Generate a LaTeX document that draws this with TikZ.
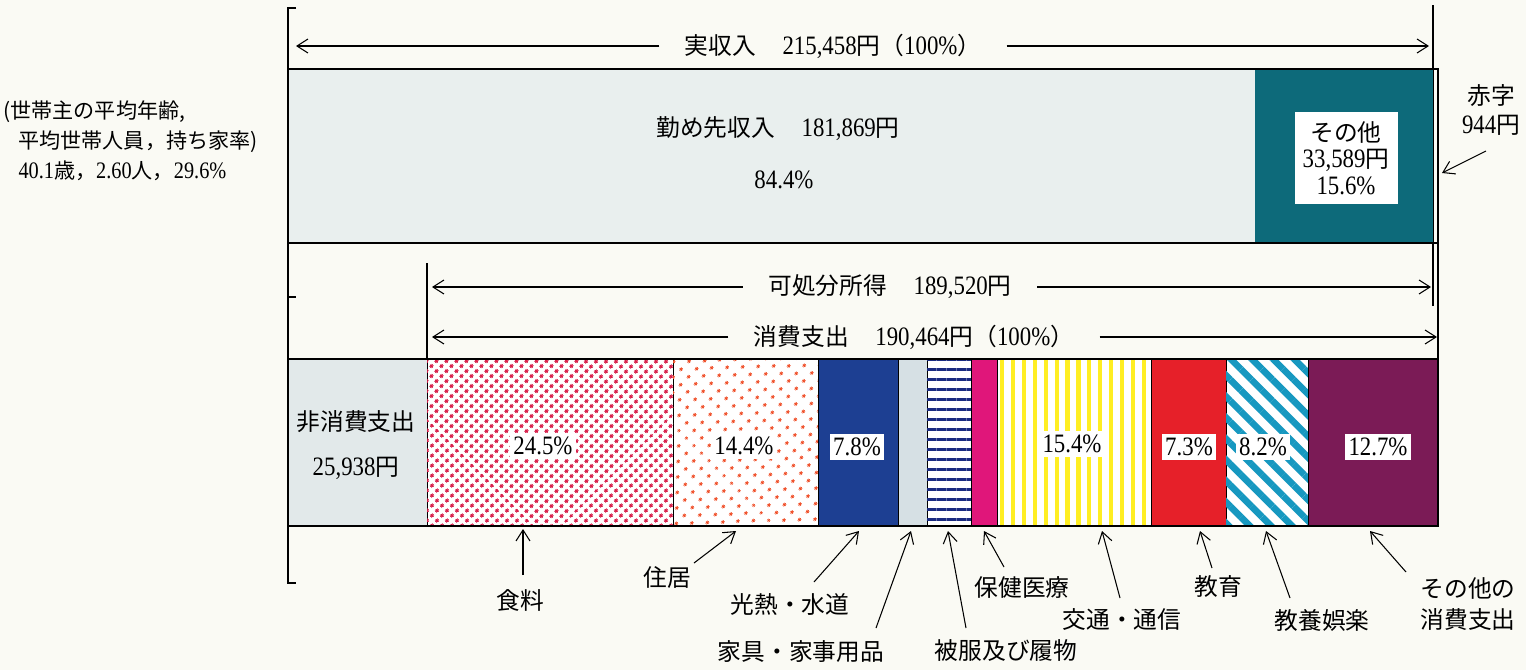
\documentclass[tikz,border=0pt]{standalone}
\usepackage{fontspec}
\setmainfont{Liberation Serif}[Scale=1.12, FakeStretch=0.86]
\newfontfamily\jp{Noto Sans CJK JP}
\usetikzlibrary{positioning,arrows.meta,patterns.meta}

\definecolor{paper}{HTML}{FAFAF4}
\definecolor{wagefill}{HTML}{E9EFEE}
\definecolor{otherteal}{HTML}{0D6A7A}
\definecolor{taxfill}{HTML}{E2E9EA}
\definecolor{fooddot}{HTML}{D81E4A}
\definecolor{housedot}{HTML}{F0502A}
\definecolor{utilblue}{HTML}{1D3F92}
\definecolor{furngrey}{HTML}{D6E0E4}
\definecolor{clothnavy}{HTML}{1A2A80}
\definecolor{healthpink}{HTML}{E0167A}
\definecolor{transyellow}{HTML}{FFEE22}
\definecolor{edured}{HTML}{E62029}
\definecolor{leiscyan}{HTML}{1798C0}
\definecolor{miscpurple}{HTML}{7B1B56}

\newcommand{\J}[1]{{\jp #1}}
\newcommand{\en}{{\jp 円}}

\tikzset{
  frame/.style={line width=0.9pt},
  seg/.style={draw=black, line width=0.5pt},
  txt/.style={inner sep=0pt, align=center, font=\fontsize{13.5}{17}\selectfont},
  jtxt/.style={txt, font=\jp\fontsize{13.5}{17}\selectfont},
  pct/.style={txt, fill=white, inner sep=2pt},
  span/.style={txt, inner xsep=0.5cm},
}

\begin{document}
\begin{tikzpicture}[x=0.02cm, y=-0.02cm, line width=0.6pt]
\useasboundingbox[fill=paper] (0,0) rectangle (1526,670);
\begin{scope}[>={Straight Barb[length=2.2mm,width=2.8mm]}]

  % brackets and guide lines
  \draw[frame] (296,8) -- (288,8) -- (288,583) -- (296,583);
  \draw[frame] (288,297) -- (296,297);
  \draw (1433,5) -- (1433,306);
  \draw (427,263) -- (427,359);
  \draw (1438,243) -- (1438,359);

  \node (note) at (3,141) [anchor=west, inner sep=0pt, align=left, font=\jp\fontsize{12}{17}\selectfont]{(世帯主の平均年齢,\\\hspace{0.3cm}平均世帯人員，持ち家率)\\\hspace{0.3cm}{\rmfamily 40.1}歳，{\rmfamily 2.60}人，{\rmfamily 29.6\%}};

  % income bar
  \fill[wagefill] (288,69) rectangle (1255,243);
  \fill[otherteal] (1255,69) rectangle (1433,243);
  \draw[frame] (288,69) rectangle (1438,243);

  \node (wage) at (778,129) [txt]{\J{勤め先収入}\quad 181,869\en};
  \node (wagepct) at (784,180) [txt]{84.4\%};
  \node (other) at (1346,158) [txt, fill=white, minimum width=2.06cm, minimum height=1.86cm, font=\fontsize{13.5}{15}\selectfont]{\J{その他}\\33,589\en\\15.6\%};
  \node (deficit) at (1491,110) [txt]{\J{赤字}\\944\en};
  \coordinate (defgap) at (1442,173);
  \draw[->] ([shift={(-5,41)}]deficit.center) -- (defgap);

  % spans
  \node (income) at (833,46) [span]{\J{実収入}\quad 215,458\en\J{（}100\%\J{）}};
  \coordinate (incL) at (296,46);
  \coordinate (incR) at (1429,46);
  \draw[->] (income) -- (incL);
  \draw[->] (income) -- (incR);

  \node (dispo) at (890,287) [span]{\J{可処分所得}\quad 189,520\en};
  \coordinate (dispL) at (432,287);
  \coordinate (dispR) at (1431,287);
  \draw[->] (dispo) -- (dispL);
  \draw[->] (dispo) -- (dispR);

  \node (cons) at (914,337) [span]{\J{消費支出}\quad 190,464\en\J{（}100\%\J{）}};
  \coordinate (consL) at (432,337);
  \coordinate (consR) at (1437,337);
  \draw[->] (cons) -- (consL);
  \draw[->] (cons) -- (consR);

  % spending bar
  \draw[seg, fill=taxfill] (288,359) rectangle (427,526);
  \draw[seg, fill=white, postaction={pattern={Dots[distance=4pt,angle=45,radius=1.1pt]}, pattern color=fooddot}] (427,359) rectangle (673,526);
  \draw[seg, fill=white, postaction={pattern={Dots[distance=6.5pt,angle=45,radius=1.1pt]}, pattern color=housedot}] (673,359) rectangle (818,526);
  \draw[seg, fill=utilblue] (818,359) rectangle (898,526);
  \draw[seg, fill=furngrey] (898,359) rectangle (927,526);
  \draw[seg, fill=white, postaction={pattern={Lines[distance=5.7pt,angle=0,line width=1.6pt]}, pattern color=clothnavy}] (927,359) rectangle (971,526);
  \draw[seg, fill=healthpink] (971,359) rectangle (997,526);
  \draw[seg, fill=white, postaction={pattern={Lines[distance=6.2pt,angle=90,line width=2.4pt]}, pattern color=transyellow}] (997,359) rectangle (1151,526);
  \draw[seg, fill=edured] (1151,359) rectangle (1226,526);
  \draw[seg, fill=white, postaction={pattern={Lines[distance=8.5pt,angle=-45,line width=3.8pt]}, pattern color=leiscyan}] (1226,359) rectangle (1308,526);
  \draw[seg, fill=miscpurple] (1308,359) rectangle (1438,526);
  \draw[frame] (288,359) rectangle (1438,526);

  \node (tax) at (356,445) [txt]{\J{非消費支出}\\[0.32cm]25,938\en};
  \node (pfood) at (543,446) [pct]{24.5\%};
  \node (phouse) at (744,446) [pct]{14.4\%};
  \node (putil) at (857,447) [pct]{7.8\%};
  \node (ptrans) at (1072,444) [pct]{15.4\%};
  \node (pedu) at (1189,447) [pct]{7.3\%};
  \node (pleis) at (1263,447) [pct]{8.2\%};
  \node (pmisc) at (1378,447) [pct]{12.7\%};

  % item labels
  \node (lfood) at (520,600) [jtxt]{食料};
  \node (lhouse) at (667,577) [jtxt]{住居};
  \node (lutil) at (790,604) [jtxt]{光熱・水道};
  \node (lfurn) at (801,652) [jtxt]{家具・家事用品};
  \node (lcloth) at (1006,651) [jtxt]{被服及び履物};
  \node (lhealth) at (1022,587) [jtxt]{保健医療};
  \node (ltrans) at (1122,620) [jtxt]{交通・通信};
  \node (ledu) at (1218,587) [jtxt]{教育};
  \node (lleis) at (1322,620) [jtxt]{教養娯楽};
  \node (lmisc) at (1468,604) [jtxt]{その他の\\[1pt]消費支出};

  \coordinate (tfood) at (523,529);
  \coordinate (thouse) at (736,531);
  \coordinate (tutil) at (859,531);
  \coordinate (tfurn) at (911,531);
  \coordinate (tcloth) at (948,531);
  \coordinate (thealth) at (984,531);
  \coordinate (ttrans) at (1102,531);
  \coordinate (tedu) at (1200,531);
  \coordinate (tleis) at (1266,531);
  \coordinate (tmisc) at (1370,531);

  \draw[->] ([shift={(3,-25)}]lfood.center) -- (tfood);
  \draw[->] ([shift={(27,-14)}]lhouse.center) -- (thouse);
  \draw[->] ([shift={(24,-22)}]lutil.center) -- (tutil);
  \draw[->] ([shift={(75,-24)}]lfurn.center) -- (tfurn);
  \draw[->] ([shift={(-40,-23)}]lcloth.center) -- (tcloth);
  \draw[->] ([shift={(-18,-20)}]lhealth.center) -- (thealth);
  \draw[->] ([shift={(-2,-22)}]ltrans.center) -- (ttrans);
  \draw[->] ([shift={(-6,-19)}]ledu.center) -- (tedu);
  \draw[->] ([shift={(-32,-22)}]lleis.center) -- (tleis);
  \draw[->] ([shift={(-62,-32)}]lmisc.center) -- (tmisc);

\end{scope}
\end{tikzpicture}
\end{document}
